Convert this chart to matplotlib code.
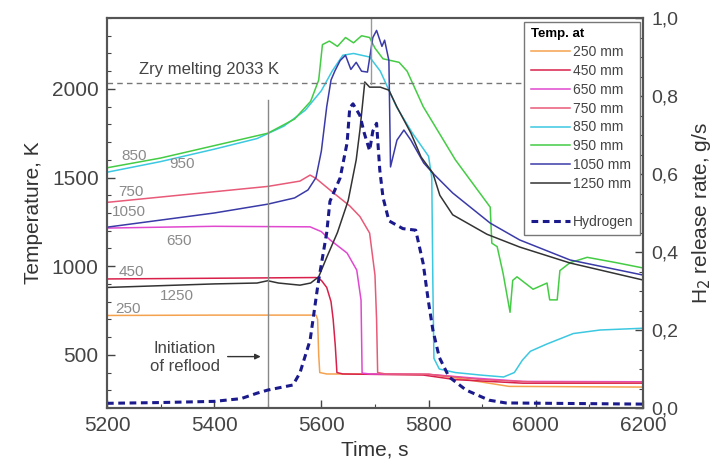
import numpy as np
import matplotlib
matplotlib.use("Agg")
import matplotlib.pyplot as plt
from matplotlib.lines import Line2D
from matplotlib.ticker import MultipleLocator, FuncFormatter

plt.rcParams['font.family'] = ['Liberation Sans', 'DejaVu Sans']

# ---- data ----
t_250 = [5200, 5400, 5590, 5593, 5595, 5597, 5610, 5800, 5850, 5950, 6200]
T_250 = [722, 724, 724, 700, 500, 400, 392, 390, 370, 322, 318]

t_450 = [5200, 5400, 5590, 5600, 5610, 5618, 5622, 5626, 5629, 5640, 5790, 5850, 5976, 6200]
T_450 = [928, 932, 936, 920, 880, 800, 700, 550, 400, 392, 386, 360, 340, 340]

t_650 = [5200, 5400, 5579, 5600, 5616, 5648, 5666, 5674, 5676, 5690, 5800, 5880, 5976, 6200]
T_650 = [1215, 1225, 1222, 1195, 1149, 1074, 978, 809, 397, 392, 390, 370, 350, 348]

t_750 = [5200, 5300, 5400, 5500, 5560, 5579, 5590, 5620, 5653, 5672, 5690, 5700, 5703, 5705, 5720, 5800, 5900, 6000, 6200]
T_750 = [1360, 1390, 1420, 1450, 1480, 1514, 1495, 1420, 1340, 1280, 1187, 950, 700, 400, 392, 390, 360, 346, 344]

t_850 = [5200, 5300, 5400, 5480, 5530, 5570, 5600, 5620, 5640, 5660, 5690, 5710, 5740, 5770, 5800,
         5806, 5808, 5810, 5820, 5850, 5900, 5940, 5960, 5975, 5990, 6020, 6070, 6120, 6200]
T_850 = [1530, 1590, 1660, 1720, 1790, 1880, 1990, 2100, 2190, 2200, 2180, 2100, 1900, 1750, 1620,
         1500, 900, 480, 420, 400, 385, 375, 400, 470, 520, 560, 620, 640, 650]

t_950 = [5200, 5300, 5400, 5500, 5550, 5580, 5595, 5602, 5615, 5630, 5645, 5660, 5675, 5690, 5700,
         5715, 5730, 5745, 5760, 5790, 5850, 5915, 5918, 5928, 5939, 5952, 5957, 5965, 5995, 6021,
         6026, 6040, 6045, 6064, 6096, 6150, 6200]
T_950 = [1555, 1610, 1680, 1750, 1830, 1930, 2050, 2250, 2270, 2240, 2290, 2260, 2300, 2290, 2230,
         2170, 2160, 2150, 2100, 1900, 1600, 1333, 1130, 1110, 960, 740, 920, 940, 870, 905,
         810, 810, 975, 1020, 1050, 1020, 990]

t_1050 = [5200, 5300, 5400, 5500, 5550, 5575, 5590, 5600, 5610, 5618, 5625, 5635, 5645, 5655, 5665,
          5675, 5686, 5696, 5703, 5713, 5718, 5726, 5729, 5741, 5754, 5767, 5791, 5808, 5845, 5915,
          5970, 6064, 6200]
T_1050 = [1220, 1260, 1300, 1350, 1385, 1430, 1500, 1650, 1900, 2050, 2100, 2160, 2190, 2110, 2150,
          2100, 2095, 2290, 2330, 2240, 2275, 2160, 1560, 1711, 1768, 1711, 1582, 1525, 1413, 1243,
          1148, 1035, 950]

t_1250 = [5200, 5300, 5400, 5480, 5500, 5520, 5560, 5580, 5595, 5610, 5630, 5650, 5665, 5672, 5681,
          5690, 5710, 5726, 5741, 5767, 5786, 5808, 5821, 5845, 5909, 5970, 6064, 6200]
T_1250 = [880, 890, 900, 905, 918, 905, 893, 905, 940, 1050, 1190, 1370, 1600, 1770, 2039,
          2010, 2010, 1993, 1898, 1751, 1616, 1525, 1400, 1290, 1180, 1108, 1018, 922]

t_h2 = [5200, 5300, 5400, 5450, 5480, 5500, 5547, 5560, 5579, 5594, 5610, 5616, 5635, 5648, 5653,
        5659, 5672, 5680, 5690, 5696, 5703, 5709, 5715, 5726, 5752, 5776, 5790, 5799, 5808, 5820,
        5838, 5870, 5913, 5944, 6200]
h2 = [0.012, 0.014, 0.017, 0.024, 0.038, 0.046, 0.059, 0.09, 0.174, 0.32, 0.45, 0.53, 0.59, 0.68, 0.77,
      0.78, 0.75, 0.705, 0.66, 0.71, 0.73, 0.61, 0.54, 0.48, 0.46, 0.456, 0.37, 0.28, 0.2, 0.13,
      0.08, 0.046, 0.02, 0.013, 0.01]

series = [
    ("250 mm", t_250, T_250, "#f5a24e"),
    ("450 mm", t_450, T_450, "#d8204a"),
    ("650 mm", t_650, T_650, "#e048d0"),
    ("750 mm", t_750, T_750, "#e85a78"),
    ("850 mm", t_850, T_850, "#3cc8e0"),
    ("950 mm", t_950, T_950, "#44cc44"),
    ("1050 mm", t_1050, T_1050, "#3a3aa8"),
    ("1250 mm", t_1250, T_1250, "#333333"),
]

# inline labels near the left edge
inline_names = ["850", "950", "750", "1050", "650", "450", "1250", "250"]
inline_t = [5250, 5340, 5245, 5240, 5335, 5245, 5330, 5240]
inline_T = [1620, 1575, 1420, 1305, 1140, 970, 830, 760]

ZRY_MELT = 2033
REFLOOD_T = 5500

fig = plt.figure(figsize=(7.16, 4.68), dpi=100)
ax = fig.add_axes([0.1494, 0.1282, 0.7486, 0.8333])
ax2 = ax.twinx()

for name, t, T, c in series:
    ax.plot(t, T, color=c, lw=1.1)

ax.axhline(ZRY_MELT, color="#777777", lw=1.0, ls=(0, (4, 3)))
ax.plot([REFLOOD_T, REFLOOD_T], [200, 1940], color="#888888", lw=1.0)
ax.plot([5692, 5692], [2030, 2400], color="#999999", lw=1.0)

ax.text(5260, 2085, "Zry melting 2033 K", fontsize=12, color="#444444")
for n, tx, ty in zip(inline_names, inline_t, inline_T):
    ax.text(tx, ty, n, fontsize=11, color="#8a8a8a", ha="center", va="center")

ax.text(5345, 485, "Initiation\nof reflood", fontsize=12, color="#444444",
        ha="center", va="center", linespacing=1.2)
ax.annotate("", xy=(5492, 490), xytext=(5420, 490),
            arrowprops=dict(arrowstyle="-|>", color="#333333", lw=1.0, mutation_scale=8))

ax2.plot(t_h2, h2, color="#1a1a8c", lw=2.2, ls=(0, (2.2, 1.5)))

ax.set_xlim(5200, 6200)
ax.set_ylim(200, 2400)
ax2.set_ylim(0, 1.0)

ax.xaxis.set_major_locator(MultipleLocator(200))
ax.xaxis.set_minor_locator(MultipleLocator(100))
ax.yaxis.set_major_locator(MultipleLocator(500))
ax.yaxis.set_minor_locator(MultipleLocator(100))
ax2.yaxis.set_major_locator(MultipleLocator(0.2))
ax2.yaxis.set_minor_locator(MultipleLocator(0.05))
ax2.yaxis.set_major_formatter(FuncFormatter(lambda v, p: f"{v:.1f}".replace(".", ",")))

for a in (ax, ax2):
    a.tick_params(which="both", direction="in", colors="#444444", labelcolor="#444444")
    a.tick_params(which="major", length=6, width=1.0)
    a.tick_params(which="minor", length=3, width=0.8)
    for s in a.spines.values():
        s.set_color("#555555")
        s.set_linewidth(1.5)
ax.tick_params(axis="both", labelsize=15, pad=6)
ax2.tick_params(axis="y", labelsize=14, pad=6)

ax.set_xlabel("Time, s", fontsize=15, color="#333333", labelpad=4)
ax.set_ylabel("Temperature, K", fontsize=15, color="#333333", labelpad=6)
ax2.set_ylabel("H$_2$ release rate, g/s", fontsize=15, color="#333333", labelpad=8)

handles = [Line2D([], [], color=c, lw=1.1) for _, _, _, c in series]
labels = [n for n, _, _, _ in series]
handles += [Line2D([], [], color="none"), Line2D([], [], color="#1a1a8c", lw=2.2, ls=(0, (2.2, 1.5)))]
labels += [" ", "Hydrogen"]
leg = ax2.legend(handles, labels, title="Temp. at", loc="upper right",
                 bbox_to_anchor=(0.994, 0.99), borderaxespad=0.0,
                 fontsize=10, title_fontproperties={"size": 9.5, "weight": "bold"},
                 frameon=True, fancybox=False, edgecolor="#777777", framealpha=1.0,
                 handlelength=2.8, labelspacing=0.35, borderpad=0.45, handletextpad=0.25,
                 alignment="left")
leg.get_frame().set_linewidth(1.0)
for txt in leg.get_texts():
    txt.set_color("#444444")

fig.savefig("out.png", dpi=100)
